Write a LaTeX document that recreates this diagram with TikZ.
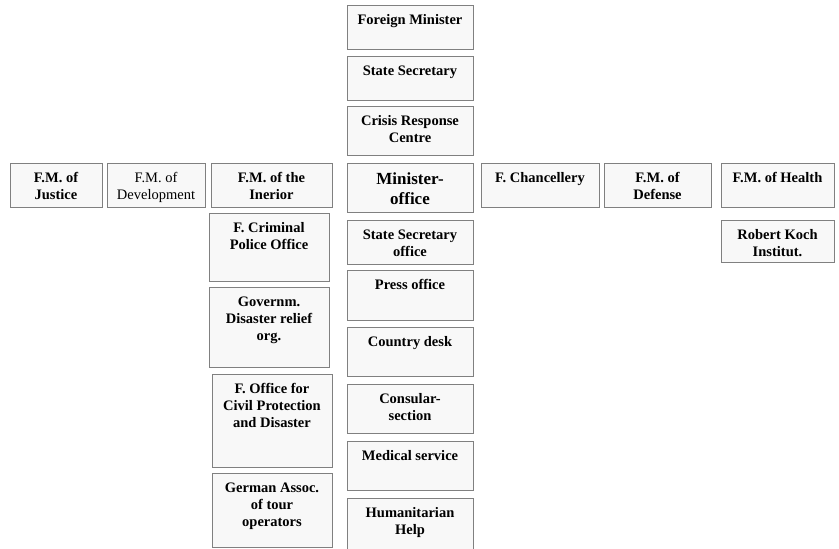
\documentclass[tikz,border=0pt]{standalone}
\usepackage{fontspec}
\setmainfont{Liberation Serif}
\usepackage{tikz}
\definecolor{boxline}{RGB}{128,128,128}
\definecolor{boxfill}{RGB}{248,248,248}

\begin{document}
\begin{tikzpicture}[x=1pt,y=-1pt,
	box/.style={draw=boxline, fill=boxfill, line width=1pt},
	ttl/.style={anchor=north, inner sep=0pt, align=center, yshift=-9.5pt,
		font=\fontsize{14.5}{17}\selectfont\bfseries}]
	\useasboundingbox (0,0) rectangle (839,549);
	\clip (0,0) rectangle (839,549);
	\pgfmathsetmacro{\colL}{347}
	\pgfmathsetmacro{\colR}{473}
	\pgfmathsetmacro{\colM}{(\colL+\colR)/2}
	% ministry column
	\draw[box] (\colL,5) rectangle (\colR,49);
	\node[ttl] (fmin) at (\colM,5) {Foreign Minister};
	\draw[box] (\colL,56) rectangle (\colR,100);
	\node[ttl] (ssec) at (\colM,56) {State Secretary};
	\draw[box] (\colL,106) rectangle (\colR,155);
	\node[ttl] (crc) at (\colM,106) {Crisis Response\\Centre};
	\draw[box] (\colL,163) rectangle (\colR,212);
	\node[ttl, yshift=-0.5pt, font=\fontsize{17}{20}\selectfont\bfseries] (moff) at (\colM,163) {Minister-\\office};
	\draw[box] (\colL,220) rectangle (\colR,264);
	\node[ttl] (sso) at (\colM,220) {State Secretary\\office};
	\draw[box] (\colL,270) rectangle (\colR,320);
	\node[ttl] (press) at (\colM,270) {Press office};
	\draw[box] (\colL,327) rectangle (\colR,376);
	\node[ttl] (cdesk) at (\colM,327) {Country desk};
	\draw[box] (\colL,384) rectangle (\colR,433);
	\node[ttl] (cons) at (\colM,384) {Consular-\\section};
	\draw[box] (\colL,441) rectangle (\colR,490);
	\node[ttl] (med) at (\colM,441) {Medical service};
	\draw[box] (\colL,498) rectangle (\colR,560);
	\node[ttl] (hum) at (\colM,498) {Humanitarian\\Help};
	% left row
	\draw[box] (10,163) rectangle (102,207);
	\node[ttl] (just) at (56,163) {F.M. of\\Justice};
	\draw[box] (107,163) rectangle (205,207);
	\node[ttl, font=\fontsize{14.5}{17}\selectfont] (dev) at (156,163) {F.M. of\\Development};
	\draw[box] (211,163) rectangle (332,207);
	\node[ttl] (inner) at (271.5,163) {F.M. of the\\Inerior};
	% interior column
	\draw[box] (209,213) rectangle (329,281);
	\node[ttl] (bka) at (269,213) {F. Criminal\\Police Office};
	\draw[box] (209,287) rectangle (329,367);
	\node[ttl] (thw) at (269,287) {Governm.\\Disaster relief\\org.};
	\draw[box] (212,374) rectangle (332,467);
	\node[ttl] (bbk) at (272,374) {F. Office for\\Civil Protection\\and Disaster};
	\draw[box] (212,473) rectangle (332,547);
	\node[ttl] (drv) at (272,473) {German Assoc.\\of tour\\operators};
	% right row
	\draw[box] (481,163) rectangle (599,207);
	\node[ttl] (chanc) at (540,163) {F. Chancellery};
	\draw[box] (604,163) rectangle (711,207);
	\node[ttl] (def) at (657.5,163) {F.M. of\\Defense};
	\draw[box] (721,163) rectangle (834,207);
	\node[ttl] (health) at (777.5,163) {F.M. of Health};
	\draw[box] (721,220) rectangle (834,262);
	\node[ttl] (rki) at (777.5,220) {Robert Koch\\Institut.};
\end{tikzpicture}
\end{document}
